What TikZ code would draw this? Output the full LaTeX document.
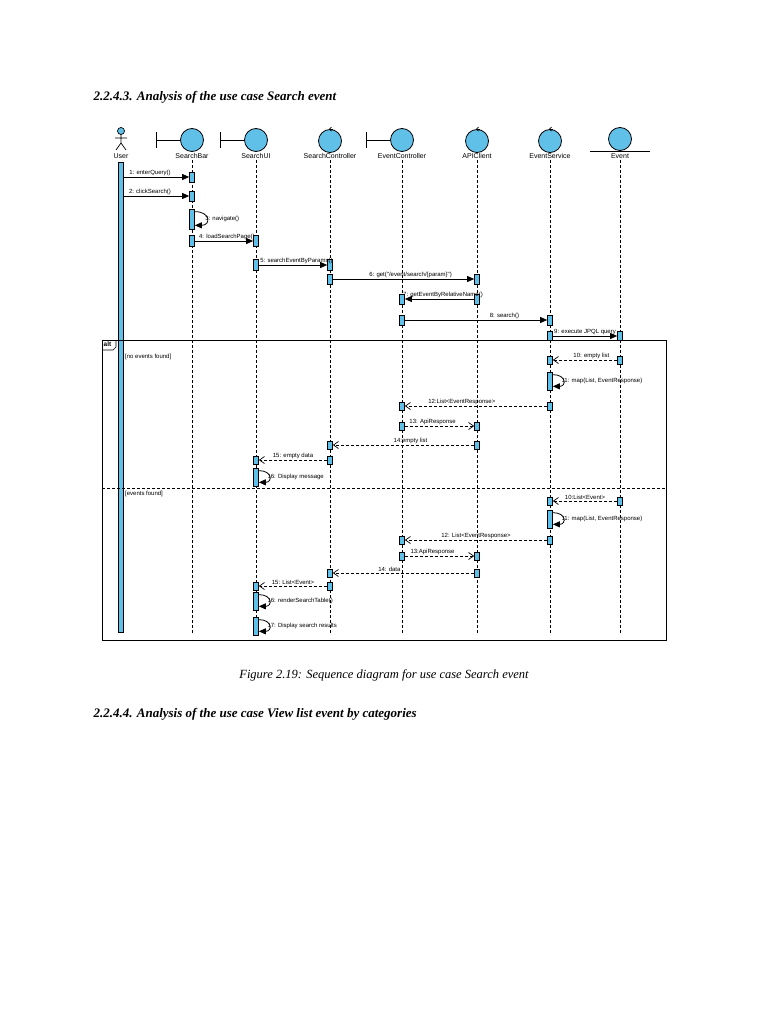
\documentclass[tikz,border=0pt]{standalone}
\usepackage{fontspec}
\setmainfont{Liberation Serif}
\newfontfamily\diafont{Liberation Sans}
\usetikzlibrary{arrows.meta}
\definecolor{umlblue}{RGB}{96,192,232}

\newcommand{\actbox}[4]{\node[actb, minimum height=#4] (#1) at (#2,#3) {};}

\begin{document}
\begin{tikzpicture}[x=1pt, y=-1pt,
    % Styles
    actb/.style={draw, fill=umlblue, line width=0.7pt, minimum width=5pt, inner sep=0pt},
    lifeline/.style={dashed, line width=0.8pt, dash pattern=on 3pt off 2pt},
    head/.style={circle, draw, fill=umlblue, line width=0.8pt, minimum size=23pt, inner sep=0pt},
    lbl/.style={font=\diafont\fontsize{7}{8}\selectfont, inner sep=1pt},
    msg/.style={font=\diafont\fontsize{6}{7}\selectfont, inner sep=1pt, above},
    sync/.style={-{Triangle[length=7pt, width=6pt]}, line width=0.8pt},
    reply/.style={-{Straight Barb[length=5pt, width=7pt]}, dashed, dash pattern=on 3pt off 2pt, line width=0.7pt},
    selfcall/.style={sync, out=0, in=0, looseness=3},
]
\useasboundingbox (0,0) rectangle (768,1024);

% Headings
\node[anchor=west, font=\bfseries\itshape\fontsize{13}{15}\selectfont] (title) at (90,97) {2.2.4.3. Analysis of the use case Search event};
\node[font=\itshape\fontsize{12.5}{15}\selectfont] (caption) at (384,675) {Figure 2.19: Sequence diagram for use case Search event};
\node[anchor=west, font=\bfseries\itshape\fontsize{13}{15}\selectfont] (next) at (90,714) {2.2.4.4. Analysis of the use case View list event by categories};

% Lifeline heads
\foreach \name/\x/\txt in {user/121/User, bar/192/SearchBar, ui/256/SearchUI, sc/330/SearchController,
    ec/402/EventController, api/477/APIClient, es/550/EventService, ev/620/Event} {
    \node[lbl] (\name-lbl) at (\x,156) {\txt};
    \coordinate (\name-end) at (\x,634);
}
\foreach \name in {bar, ui, sc, ec, api, es, ev}
    \draw[lifeline] (\name-lbl.south) -- (\name-end);

% Actor
\begin{scope}[line width=0.7pt]
    \draw[fill=umlblue] (121,131) circle (3.5);
    \draw (121,134.5) -- (121,143) (115,138) -- (127,138) (116,150) -- (121,143) -- (126,150);
\end{scope}
% Boundary
\foreach \name/\x in {bar/192, ui/256, ec/402} {
    \node[head] (\name-head) at (\x,140) {};
    \draw[line width=0.8pt] (\name-head.west) -- ++(-24,0) ++(0,-8) -- ++(0,16);
}
% Control
\foreach \name/\x in {sc/330, api/477, es/550} {
    \node[head] (\name-head) at (\x,141) {};
    \draw[line width=0.7pt, -{Straight Barb[length=2pt]}] ([xshift=3pt]\name-head.north) -- ([xshift=-1pt]\name-head.north);
}
% Entity
\node[head] (ev-head) at (620,139) {};
\draw[line width=0.8pt] (590,151) -- (650,151);

% User activation
\node[actb, minimum height=470pt] (user-act) at (121,397) {};

% Messages
\actbox{bar1}{192}{177}{10}
\draw[sync] (user-act.east |- bar1) -- (bar1.west) node[msg, pos=0.4] {1: enterQuery()};
\actbox{bar2}{192}{196}{10}
\draw[sync] (user-act.east |- bar2) -- (bar2.west) node[msg, pos=0.4] {2: clickSearch()};
\actbox{bar3}{192}{219}{20}
\draw[selfcall] ([yshift=-3pt]bar3.north east) to node[msg, right, xshift=-3pt] {3: navigate()} ([yshift=4pt]bar3.south east);
\actbox{bar4}{192}{241}{11}
\actbox{ui4}{256}{241}{11}
\draw[sync] (bar4) -- (ui4.west) node[msg, pos=0.55] {4: loadSearchPage()};
\actbox{ui5}{256}{265}{11}
\actbox{sc5}{330}{265}{11}
\draw[sync] (ui5) -- (sc5.west) node[msg, pos=0.55] {5: searchEventByParams()};
\actbox{sc6}{330}{279}{10}
\actbox{api6}{477}{279}{10}
\draw[sync] (sc6) -- (api6.west) node[msg, pos=0.55] {6: get("/event/search/\{param\}")};
\actbox{api7}{477}{299}{10}
\actbox{ec7}{402}{299}{10}
\draw[sync] (api7) -- (ec7.east) node[msg, pos=0.45] {7: getEventByRelativeName()};
\actbox{ec8}{402}{320}{10}
\actbox{es8}{550}{320}{10}
\draw[sync] (ec8) -- (es8.west) node[msg, pos=0.7] {8: search()};
\actbox{es9}{550}{336}{9}
\actbox{ev9}{620}{336}{9}
\draw[sync] (es9) -- (ev9.west) node[msg, pos=0.5] {9: execute JPQL query};

% alt frame
\draw[line width=0.9pt] (102,340) rectangle (666,640);
\node[lbl, font=\diafont\bfseries\fontsize{6.5}{7}\selectfont, anchor=north west, inner sep=1.5pt] (alt) at (102,340) {alt};
\draw[line width=0.6pt] (102,350) -- (113,350) -- (116,347) -- (116,340);
\draw[dashed, dash pattern=on 3pt off 2pt, line width=0.7pt] (102,488) -- (666,488);

% no events found
\node[msg, anchor=west] (g1) at (124,357) {[no events found]};
\actbox{es10}{550}{360}{8}
\actbox{ev10}{620}{360}{8}
\draw[reply] (ev10) -- (es10.east) node[msg, pos=0.4] {10: empty list};
\actbox{es11}{550}{381}{18}
\draw[selfcall] ([yshift=-3pt]es11.north east) to node[msg, right, xshift=-3pt] {11: map(List, EventResponse)} ([yshift=4pt]es11.south east);
\actbox{es12}{550}{406}{8}
\actbox{ec12}{402}{406}{8}
\draw[reply] (es12) -- (ec12.east) node[msg, pos=0.6] {12:List<EventResponse>};
\actbox{ec13}{402}{426}{8}
\actbox{api13}{477}{426}{8}
\draw[reply] (ec13) -- (api13.west) node[msg, pos=0.4] {13: ApiResponse};
\actbox{api14}{477}{445}{8}
\actbox{sc14}{330}{445}{8}
\draw[reply] (api14) -- (sc14.east) node[msg, pos=0.45] {14:empty list};
\actbox{sc15}{330}{460}{8}
\actbox{ui15}{256}{460}{8}
\draw[reply] (sc15) -- (ui15.east) node[msg, pos=0.5] {15: empty data};
\actbox{ui16}{256}{477}{18}
\draw[selfcall] ([yshift=-3pt]ui16.north east) to node[msg, right, xshift=-3pt] {16: Display message} ([yshift=4pt]ui16.south east);

% events found
\node[msg, anchor=west] (g2) at (124,494) {[events found]};
\actbox{es20}{550}{501}{8}
\actbox{ev20}{620}{501}{8}
\draw[reply] (ev20) -- (es20.east) node[msg, pos=0.5] {10:List<Event>};
\actbox{es21}{550}{519}{18}
\draw[selfcall] ([yshift=-3pt]es21.north east) to node[msg, right, xshift=-3pt] {11: map(List, EventResponse)} ([yshift=4pt]es21.south east);
\actbox{es22}{550}{540}{8}
\actbox{ec22}{402}{540}{8}
\draw[reply] (es22) -- (ec22.east) node[msg, pos=0.5] {12: List<EventResponse>};
\actbox{ec23}{402}{556}{8}
\actbox{api23}{477}{556}{8}
\draw[reply] (ec23) -- (api23.west) node[msg, pos=0.4] {13:ApiResponse};
\actbox{api24}{477}{573}{8}
\actbox{sc24}{330}{573}{8}
\draw[reply] (api24) -- (sc24.east) node[msg, pos=0.6] {14: data};
\actbox{sc25}{330}{586}{8}
\actbox{ui25}{256}{586}{8}
\draw[reply] (sc25) -- (ui25.east) node[msg, pos=0.5] {15: List<Event>};
\actbox{ui26}{256}{601}{18}
\draw[selfcall] ([yshift=-3pt]ui26.north east) to node[msg, right, xshift=-3pt] {16: renderSearchTable()} ([yshift=4pt]ui26.south east);
\actbox{ui27}{256}{626}{18}
\draw[selfcall] ([yshift=-3pt]ui27.north east) to node[msg, right, xshift=-3pt] {17: Display search results} ([yshift=4pt]ui27.south east);
\end{tikzpicture}
\end{document}
